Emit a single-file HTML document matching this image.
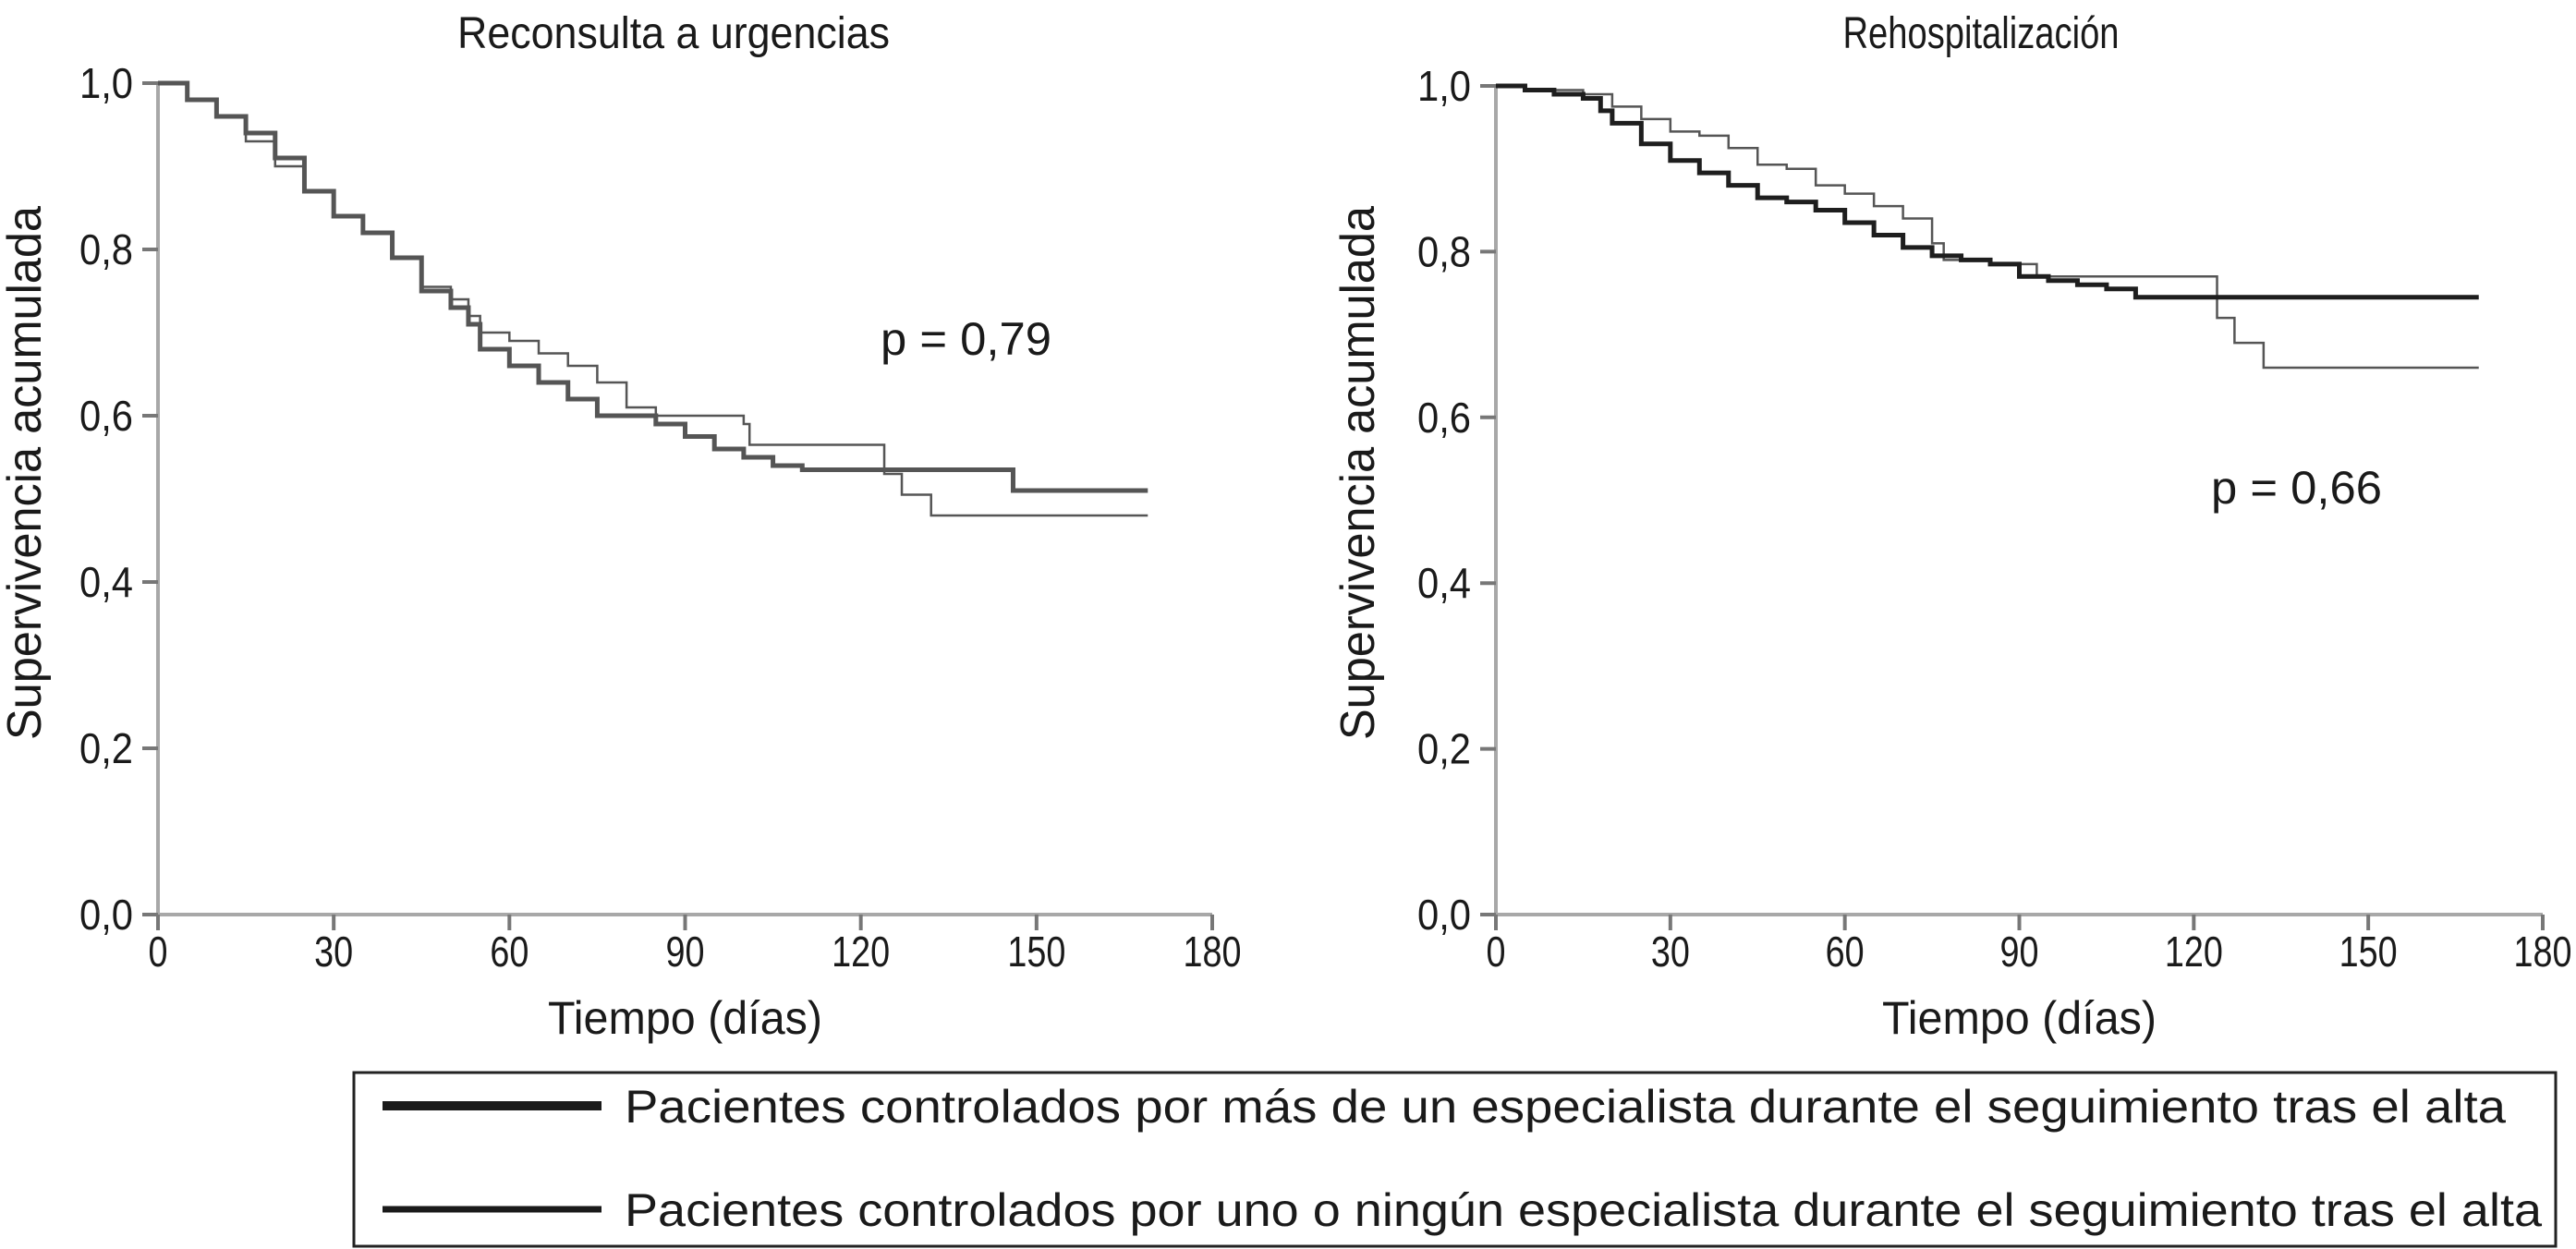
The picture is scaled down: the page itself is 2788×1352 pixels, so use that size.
<!DOCTYPE html>
<html><head><meta charset="utf-8">
<style>
html,body{margin:0;padding:0;background:#fff;}
svg{display:block;font-family:"Liberation Sans",sans-serif;}
</style></head>
<body>
<svg id="fig" width="2788" height="1352" viewBox="0 0 2788 1352" xmlns="http://www.w3.org/2000/svg">
<rect width="2788" height="1352" fill="#fff"/>
<g id="left"></g>
<g id="right"></g>
<g>
<rect x="383" y="1161" width="2383" height="188" fill="none" stroke="#222" stroke-width="3"/>
<line x1="414" y1="1197" x2="651" y2="1197" stroke="#1a1a1a" stroke-width="10"/>
<text x="676" y="1215" font-size="50" fill="#1a1a1a" textLength="2036" lengthAdjust="spacingAndGlyphs">Pacientes controlados por más de un especialista durante el seguimiento tras el alta</text>
<line x1="414" y1="1309" x2="651" y2="1309" stroke="#1a1a1a" stroke-width="7"/>
<text x="676" y="1327" font-size="50" fill="#1a1a1a" textLength="2075" lengthAdjust="spacingAndGlyphs">Pacientes controlados por uno o ningún especialista durante el seguimiento tras el alta</text>
</g>
</svg>
<script>
const xTicks = [0,30,60,90,120,150,180];
const yTicks = [0,0.2,0.4,0.6,0.8,1.0];
const yTickLabels = ["0,0","0,2","0,4","0,6","0,8","1,0"];
const leftThickT = [0,5,10,15,20,25,30,35,40,45,50,53,55,60,65,70,75,80,85,90,95,100,105,110,146,169];
const leftThickS = [1,0.98,0.96,0.94,0.91,0.87,0.84,0.82,0.79,0.75,0.73,0.71,0.68,0.66,0.64,0.62,0.60,0.60,0.59,0.575,0.56,0.55,0.54,0.535,0.51,0.51];
const leftThinT = [0,5,10,15,20,25,30,35,40,45,50,53,55,60,65,70,75,80,85,90,100,101,124,127,132,169];
const leftThinS = [1,0.98,0.96,0.93,0.90,0.87,0.84,0.82,0.79,0.755,0.74,0.72,0.70,0.69,0.675,0.66,0.64,0.61,0.60,0.60,0.59,0.565,0.53,0.505,0.48,0.48];
const rightThickT = [0,5,10,15,18,20,25,30,35,40,45,50,55,60,65,70,75,80,85,90,95,100,105,110,169];
const rightThickS = [1,0.995,0.99,0.985,0.97,0.955,0.93,0.91,0.895,0.88,0.865,0.86,0.85,0.835,0.82,0.805,0.795,0.79,0.785,0.77,0.765,0.76,0.755,0.745,0.745];
const rightThinT = [0,5,15,20,25,30,35,40,45,50,55,60,65,70,75,77,85,93,124,127,132,169];
const rightThinS = [1,0.995,0.99,0.975,0.96,0.945,0.94,0.925,0.905,0.90,0.88,0.87,0.855,0.84,0.81,0.79,0.785,0.77,0.72,0.69,0.66,0.66];
const NS = "http://www.w3.org/2000/svg";
function mk(parent, tag, attrs, text){
  const e = document.createElementNS(NS, tag);
  for (const k in attrs) e.setAttribute(k, attrs[k]);
  if (text !== undefined) e.textContent = text;
  parent.appendChild(e);
  return e;
}
function panel(gid, x0, x1, y0, y1, title, titleX, titleLen, pText, pX, pY, yTitleX, thickT, thickS, thinT, thinS){
  const g = document.getElementById(gid);
  const X = t => x0 + (x1 - x0) * t / 180;
  const Y = s => y0 - (y0 - y1) * s;
  const t1 = mk(g,'text',{x:titleX,y:52,'font-size':48,'text-anchor':'middle',fill:'#1a1a1a',textLength:titleLen,lengthAdjust:'spacingAndGlyphs'},title);
  
  
  const ax = mk(g,'path',{d:`M${x0} ${Y(1)} V${y0} H${x1}`,fill:'none',stroke:'#a8a8a8','stroke-width':4});
  
  
  yTicks.forEach((v,i)=>{
    const tk = mk(g,'line',{x1:x0-17,x2:x0,y1:Y(v),y2:Y(v),stroke:'#777','stroke-width':4});
    
    
    const lb = mk(g,'text',{x:x0-27,y:Y(v)+16,'font-size':46,'text-anchor':'end',fill:'#1a1a1a',textLength:58,lengthAdjust:'spacingAndGlyphs'},yTickLabels[i]);
    
    
  });
  xTicks.forEach(v=>{
    const tk = mk(g,'line',{x1:X(v),x2:X(v),y1:y0,y2:y0+17,stroke:'#777','stroke-width':4});
    
    
    const s = String(v);
    const lb = mk(g,'text',{x:X(v),y:y0+56,'font-size':46,'text-anchor':'middle',fill:'#1a1a1a',textLength:s.length*21,lengthAdjust:'spacingAndGlyphs'},s);
    
    
  });
  const xt = mk(g,'text',{x:(x0+x1)/2,y:1119,'font-size':50,'text-anchor':'middle',fill:'#1a1a1a',textLength:297,lengthAdjust:'spacingAndGlyphs'},'Tiempo (días)');
  
  
  const yt = mk(g,'text',{x:0,y:0,'font-size':52,'text-anchor':'middle',fill:'#1a1a1a',textLength:578,lengthAdjust:'spacingAndGlyphs',transform:`translate(${yTitleX},512) rotate(-90)`},'Supervivencia acumulada');
  
  
  const pv = mk(g,'text',{x:pX,y:pY,'font-size':50,fill:'#1a1a1a',textLength:185,lengthAdjust:'spacingAndGlyphs'},pText);
  
  
  function step(T,S){
    let d = `M${X(T[0])} ${Y(S[0])}`;
    for (let i=1;i<T.length;i++){ d += ` H${X(T[i])} V${Y(S[i])}`; }
    return d;
  }
  const thin = mk(g,'path',{d:step(thinT,thinS),fill:'none',stroke:'#555','stroke-width':2.5});
  
  
  const thick = mk(g,'path',{d:step(thickT,thickS),fill:'none',stroke: gid==='left'?'#555':'#1e1e1e','stroke-width':5});
  
  
}
panel('left',171,1312,990,90,'Reconsulta a urgencias',729,468,'p = 0,79',953,384,44,leftThickT,leftThickS,leftThinT,leftThinS);
panel('right',1619,2752,990,93,'Rehospitalización',2144,299,'p = 0,66',2393,545,1487,rightThickT,rightThickS,rightThinT,rightThinS);
</script>
</body></html>
